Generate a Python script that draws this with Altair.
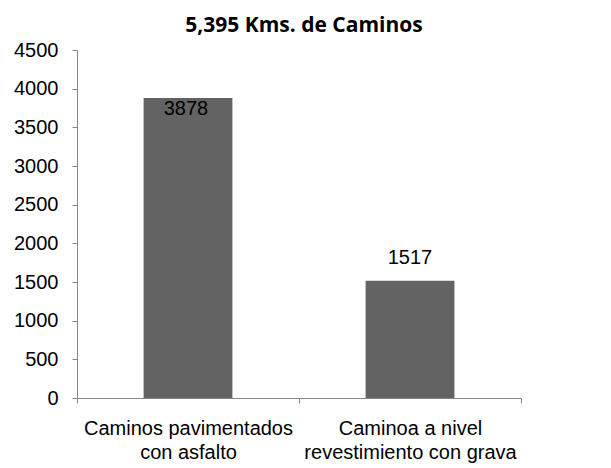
import altair as alt
import pandas as pd

categories = ["Caminos pavimentados\ncon asfalto", "Caminoa a nivel\nrevestimiento con grava"]
values = [3878, 1517]
title_text = "5,395 Kms. de Caminos"

df = pd.DataFrame({"cat": categories, "value": values})

x = alt.X("cat:N", sort=categories, title=None,
          scale=alt.Scale(paddingInner=0, paddingOuter=0),
          axis=alt.Axis(labelAngle=0, labelExpr="split(datum.label, '\\n')",
                        tickBand="extent", labelFontSize=20, labelFont="Liberation Sans",
                        labelColor="#000000", labelLineHeight=24, labelPadding=15,
                        labelLimit=0,
                        domainColor="#868686", tickColor="#868686", tickSize=5,
                        labelBaseline="top"))
y = alt.Y("value:Q", title=None,
          scale=alt.Scale(domain=[0, 4500], nice=False),
          axis=alt.Axis(values=list(range(0, 4501, 500)), grid=False, format="d",
                        labelFontSize=20, labelFont="Liberation Sans", labelColor="#000000",
                        labelPadding=14, domainColor="#868686", tickColor="#868686",
                        tickSize=5))

base = alt.Chart(df)
bars = base.mark_bar(color="#636363", width=alt.RelativeBandSize(0.4)).encode(x=x, y=y)
lab_in = base.transform_filter(alt.datum.value > 3700).mark_text(
    font="Liberation Sans", fontSize=20, color="#000000", baseline="alphabetic", dy=17, dx=-2
).encode(x=x, y=y, text="value:Q")
lab_out = base.transform_filter(alt.datum.value <= 3700).mark_text(
    font="Liberation Sans", fontSize=20, color="#000000", baseline="alphabetic", dy=-17
).encode(x=x, y=y, text="value:Q")

chart = (bars + lab_in + lab_out).properties(
    width=444, height=348,
    title=alt.Title(title_text, font="Open Sans", fontSize=21, fontWeight="bold",
                    color="#000000", anchor="middle", dx=5, dy=-4, offset=0),
    autosize=alt.AutoSizeParams(type="none"),
    padding={"left": 69, "top": 42, "right": 82, "bottom": 70},
).configure_view(stroke=None)

chart.save("out.html", embed_options={"renderer": "svg", "actions": False})
